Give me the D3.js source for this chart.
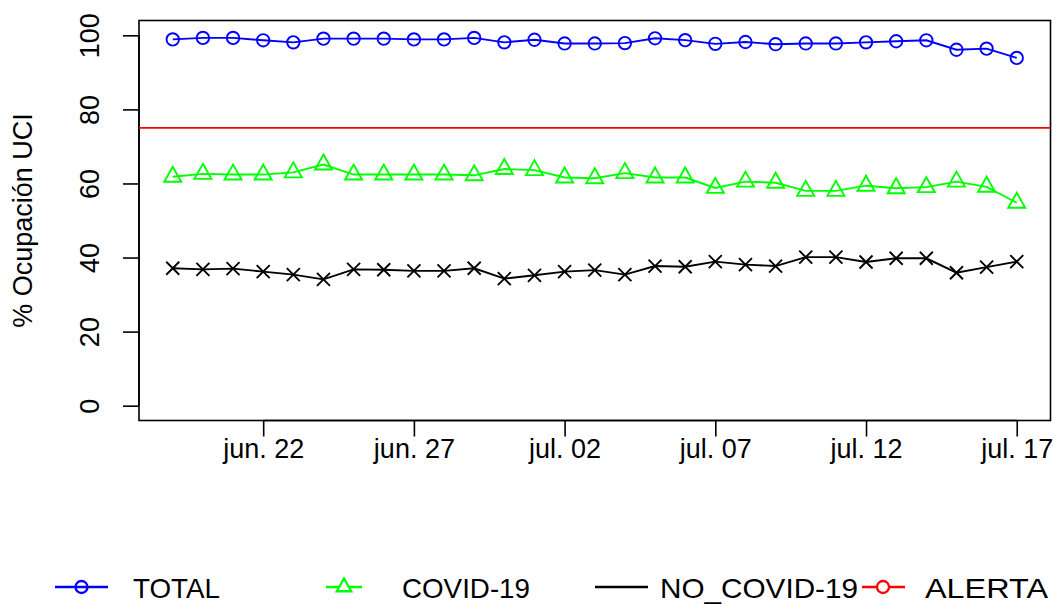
<!DOCTYPE html>
<html><head><meta charset="utf-8">
<script src="https://cdn.jsdelivr.net/npm/d3@7"></script>
<style>body{margin:0;background:#fff} svg{display:block;font-family:"Liberation Sans",Arial,sans-serif}</style>
</head><body>
<svg id="c" width="1058" height="604"></svg>
<script>
const startDate = "2020-06-19";
const total   = [98.9,99.3,99.3,98.65,98.1,99.1,99.1,99.1,98.9,98.9,99.3,98.1,98.8,97.8,97.8,97.9,99.2,98.7,97.7,98.2,97.6,97.8,97.8,98.1,98.4,98.65,96.1,96.4,93.9];
const covid   = [61.8,62.6,62.4,62.4,63.0,65.1,62.4,62.4,62.4,62.4,62.2,63.9,63.6,61.6,61.4,62.8,61.6,61.6,58.8,60.5,60.2,58.0,58.0,59.4,58.7,59.0,60.5,59.1,54.8];
const noCovid = [37.1,36.8,37.0,36.2,35.4,34.1,36.8,36.7,36.4,36.4,37.1,34.3,35.2,36.2,36.6,35.4,37.7,37.5,38.9,38.1,37.7,40.1,40.1,38.8,39.8,39.8,35.9,37.4,38.9];
const alerta = 75;
const tickDates  = ["2020-06-22","2020-06-27","2020-07-02","2020-07-07","2020-07-12","2020-07-17"];
const tickLabels = ["jun. 22","jun. 27","jul. 02","jul. 07","jul. 12","jul. 17"];
const yTicks = [0,20,40,60,80,100];
const yTitle = "% Ocupación UCI";
const legendLabels = ["TOTAL","COVID-19","NO_COVID-19","ALERTA"];

const parse = d3.utcParse("%Y-%m-%d");
const d0 = parse(startDate);
const dates = total.map((_, i) => d3.utcDay.offset(d0, i));
const first = dates[0], last = dates[dates.length-1];
const pad = (last - first) * 0.04;

const L = 139, R = 1050.5, T = 20.5, B = 420.5;
const x = d3.scaleUtc().domain([new Date(+first - pad), new Date(+last + pad)]).range([L, R]);
const y = d3.scaleLinear().domain([-4, 104]).range([B, T]);

const svg = d3.select("#c");
const FS = 27;

// box
svg.append("rect").attr("x", L).attr("y", T).attr("width", R-L).attr("height", B-T)
  .attr("fill","none").attr("stroke","#000").attr("stroke-width",1.6);

// y axis
const yAx = svg.append("g").attr("transform", `translate(${L},0)`)
  .call(d3.axisLeft(y).tickValues(yTicks).tickSize(16).tickSizeOuter(0).tickFormat(d3.format("d")));
yAx.select(".domain").attr("d", `M0,${y(0)}V${y(100)}`).attr("stroke-width",1.6);
yAx.selectAll(".tick line").attr("stroke-width",1.6);
yAx.selectAll(".tick text").attr("font-size", FS).attr("font-family","Liberation Sans, Arial, sans-serif")
  .attr("fill","#000").attr("text-anchor","middle").attr("x",0).attr("dy",null)
  .attr("transform","translate(-40,0) rotate(-90)").attr("y",0);

// x axis
const xAx = svg.append("g").attr("transform", `translate(0,${B})`)
  .call(d3.axisBottom(x).tickValues(tickDates.map(parse)).tickSize(16).tickSizeOuter(0)
    .tickFormat((d,i) => tickLabels[i]));
xAx.select(".domain").attr("d", `M${x(parse(tickDates[0]))},0H${x(parse(tickDates[tickDates.length-1]))}`).attr("stroke-width",1.6);
xAx.selectAll(".tick line").attr("stroke-width",1.6);
xAx.selectAll(".tick text").attr("font-size", FS).attr("font-family","Liberation Sans, Arial, sans-serif")
  .attr("fill","#000").attr("y", 37).attr("dy", null);

// y title
svg.append("text").attr("transform", `translate(32,${(T+B)/2}) rotate(-90)`)
  .attr("text-anchor","middle").attr("font-size", FS).attr("fill","#000").text(yTitle);

// clip
svg.append("clipPath").attr("id","clip").append("rect").attr("x",L).attr("y",T).attr("width",R-L).attr("height",B-T);
const plot = svg.append("g").attr("clip-path","url(#clip)");

// alert line
plot.append("line").attr("x1",L).attr("x2",R).attr("y1",y(alerta)).attr("y2",y(alerta))
  .attr("stroke","#FF0000").attr("stroke-width",1.8);

const line = d3.line().x((d,i)=>x(dates[i])).y(d=>y(d));
const SW = 1.9;

function triPath(cx, cy, s){ // centroid-centered triangle
  return `M${cx},${cy-10*s}L${cx+8.5*s},${cy+5*s}L${cx-8.5*s},${cy+5*s}Z`;
}
function crossPath(cx, cy, h){
  return `M${cx-h},${cy-h}L${cx+h},${cy+h}M${cx-h},${cy+h}L${cx+h},${cy-h}`;
}

// TOTAL
plot.append("path").datum(total).attr("d", line).attr("fill","none").attr("stroke","#0000FF").attr("stroke-width",SW);
plot.selectAll(".pt").data(total).enter().append("circle")
  .attr("cx",(d,i)=>x(dates[i])).attr("cy",d=>y(d)).attr("r",6.2)
  .attr("fill","none").attr("stroke","#0000FF").attr("stroke-width",SW);

// COVID
plot.append("path").datum(covid).attr("d", line).attr("fill","none").attr("stroke","#00FF00").attr("stroke-width",SW);
plot.selectAll(".tri").data(covid).enter().append("path")
  .attr("d",(d,i)=>triPath(x(dates[i]), y(d), 1))
  .attr("fill","none").attr("stroke","#00FF00").attr("stroke-width",SW);

// NO COVID
plot.append("path").datum(noCovid).attr("d", line).attr("fill","none").attr("stroke","#000").attr("stroke-width",SW);
plot.selectAll(".crs").data(noCovid).enter().append("path")
  .attr("d",(d,i)=>crossPath(x(dates[i]), y(d), 6.5))
  .attr("fill","none").attr("stroke","#000").attr("stroke-width",SW);

// legend
const LY = 587;
const lg = svg.append("g");
const legW = [87, 128, 198, 123];
function legText(i, xpos){
  lg.append("text").attr("x",xpos).attr("y",LY+11).attr("font-size",FS+1)
    .attr("textLength",legW[i]).attr("lengthAdjust","spacingAndGlyphs").text(legendLabels[i]);
}
// TOTAL
lg.append("line").attr("x1",55).attr("x2",108).attr("y1",LY).attr("y2",LY).attr("stroke","#0000FF").attr("stroke-width",SW+0.6);
lg.append("circle").attr("cx",81.5).attr("cy",LY).attr("r",6).attr("fill","none").attr("stroke","#0000FF").attr("stroke-width",SW+0.4);
legText(0, 133);
// COVID
lg.append("line").attr("x1",326).attr("x2",362).attr("y1",LY).attr("y2",LY).attr("stroke","#00FF00").attr("stroke-width",SW+0.6);
lg.append("path").attr("d",triPath(344,LY,0.85)).attr("fill","#fff").attr("stroke","#00FF00").attr("stroke-width",SW+0.4);
legText(1, 402);
// NO_COVID
lg.append("line").attr("x1",595).attr("x2",648).attr("y1",LY).attr("y2",LY).attr("stroke","#000").attr("stroke-width",SW+0.8);
legText(2, 660);
// ALERTA
lg.append("line").attr("x1",862).attr("x2",905).attr("y1",LY).attr("y2",LY).attr("stroke","#FF0000").attr("stroke-width",SW+0.6);
lg.append("circle").attr("cx",883).attr("cy",LY).attr("r",6).attr("fill","#fff").attr("stroke","#FF0000").attr("stroke-width",SW+0.4);
legText(3, 925);
</script>
</body></html>
